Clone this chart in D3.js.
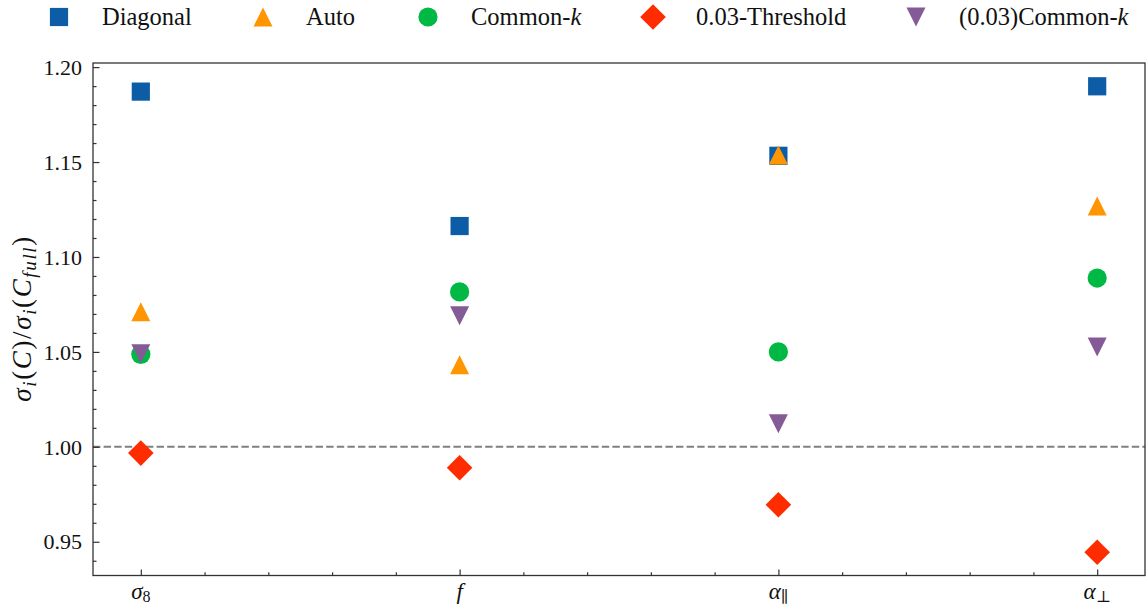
<!DOCTYPE html>
<html>
<head>
<meta charset="utf-8">
<script src="https://cdn.jsdelivr.net/npm/d3@7"></script>
<style>
  html, body { margin: 0; padding: 0; background: #fff; }
  svg { display: block; }
  svg text { font-family: "Liberation Serif", "DejaVu Serif", "Times New Roman", serif; fill: #111; }
</style>
</head>
<body>
<svg id="chart" width="1148" height="607" font-family="Liberation Serif, DejaVu Serif, serif"></svg>
<script>
// Parameters on the x axis (base symbol + subscript)
const paramBase = ["σ", "f", "α", "α"];
const paramSub  = ["8", "", "∥", "⊥"];

// Ratio of marginalised errors sigma_i(C) / sigma_i(C_full) for each covariance choice
const diagonal       = [1.1871, 1.1163, 1.1533, 1.1899];
const auto           = [1.0711, 1.0432, 1.1537, 1.1268];
const commonK        = [1.0487, 1.0816, 1.0500, 1.0889];
const threshold003   = [0.9967, 0.9890, 0.9695, 0.9445];
const commonK003     = [1.0490, 1.0690, 1.0121, 1.0526];

const seriesNames  = ["Diagonal", "Auto", "Common-k", "0.03-Threshold", "(0.03)Common-k"];
const seriesValues = [diagonal, auto, commonK, threshold003, commonK003];

const yMajorTicks = [0.95, 1.00, 1.05, 1.10, 1.15, 1.20];
const yTickLabels = ["0.95", "1.00", "1.05", "1.10", "1.15", "1.20"];
const referenceLevel = 1.0;

const colors  = ["#0C5DA5", "#FF9500", "#00B945", "#FF2C00", "#845B97"];
const markers = ["square", "triangleUp", "circle", "diamond", "triangleDown"];

const FONT = "Liberation Serif, DejaVu Serif, serif";
const svg = d3.select("#chart");
const margin = { left: 93, right: 3, top: 63, bottom: 31.5 };
const W = 1148, H = 607;
const x0 = margin.left, x1 = W - margin.right;
const y0 = margin.top, y1 = H - margin.bottom;

// x: category index with 5% padding on each side
const n = paramBase.length;
const xPad = 0.05 * (n - 1);
const x = d3.scaleLinear().domain([-xPad, n - 1 + xPad]).range([x0, x1]);

// y: data extent with 5% padding
const allVals = seriesValues.flat();
const yMin = d3.min(allVals), yMax = d3.max(allVals);
const yPad = 0.05 * (yMax - yMin);
const y = d3.scaleLinear().domain([yMin - yPad, yMax + yPad]).range([y1, y0]);

function markerPath(kind) {
  const p = d3.path();
  if (kind === "square") {
    const s = 9.1; p.rect(-s, -s, 2 * s, 2 * s);
  } else if (kind === "circle") {
    p.arc(0, 0, 9.6, 0, 2 * Math.PI);
  } else if (kind === "triangleUp") {
    const h = 9.5; p.moveTo(0, -h); p.lineTo(h, h); p.lineTo(-h, h); p.closePath();
  } else if (kind === "triangleDown") {
    const h = 9.5; p.moveTo(0, h); p.lineTo(h, -h); p.lineTo(-h, -h); p.closePath();
  } else if (kind === "diamond") {
    const d = 12.8; p.moveTo(0, -d); p.lineTo(d, 0); p.lineTo(0, d); p.lineTo(-d, 0); p.closePath();
  }
  return p.toString();
}

// Reference line at ratio = 1
svg.append("line")
  .attr("x1", x0).attr("x2", x1)
  .attr("y1", y(referenceLevel)).attr("y2", y(referenceLevel))
  .attr("stroke", "#808080").attr("stroke-width", 2)
  .attr("stroke-dasharray", "7.4,3.2");

// Markers
const plot = svg.append("g");
seriesValues.forEach((vals, si) => {
  plot.append("g").selectAll("path")
    .data(vals)
    .join("path")
    .attr("d", markerPath(markers[si]))
    .attr("transform", (v, i) => `translate(${x(i)},${y(v)})`)
    .attr("fill", colors[si]);
});

// Axes: inward ticks on left and bottom
const axisColor = "#333";
const xAxis = d3.axisBottom(x)
  .tickValues(d3.range(n))
  .tickSize(-6).tickSizeOuter(0).tickFormat("");
const xMinor = d3.axisBottom(x)
  .tickValues(d3.range(0, n - 1 + 1e-9, 0.2).filter(v => Math.abs(v - Math.round(v)) > 1e-6))
  .tickSize(-3.2).tickSizeOuter(0).tickFormat("");
const yAxis = d3.axisLeft(y)
  .tickValues(yMajorTicks)
  .tickSize(-6.5).tickSizeOuter(0).tickFormat("");
const yMinorVals = d3.range(93, 121).map(v => v / 100)
  .filter(v => v >= y.domain()[0] && v <= y.domain()[1] && Math.abs(v * 20 - Math.round(v * 20)) > 1e-6);
const yMinor = d3.axisLeft(y)
  .tickValues(yMinorVals)
  .tickSize(-3.5).tickSizeOuter(0).tickFormat("");

[[xAxis, `translate(0,${y1})`], [xMinor, `translate(0,${y1})`],
 [yAxis, `translate(${x0},0)`], [yMinor, `translate(${x0},0)`]].forEach(([ax, tr]) => {
  const g = svg.append("g").attr("transform", tr).call(ax);
  g.select(".domain").remove();
  g.selectAll(".tick line").attr("stroke", axisColor).attr("stroke-width", 1.2);
});

// Frame
svg.append("rect")
  .attr("x", x0).attr("y", y0).attr("width", x1 - x0).attr("height", y1 - y0)
  .attr("fill", "none").attr("stroke", axisColor).attr("stroke-width", 1.3);

// Y tick labels
svg.append("g").selectAll("text")
  .data(yMajorTicks)
  .join("text")
  .attr("x", x0 - 11).attr("y", v => y(v))
  .attr("dy", "0.35em")
  .attr("text-anchor", "end")
  .attr("font-family", FONT)
  .attr("font-size", 22)
  .text((v, i) => yTickLabels[i]);

// X tick labels with subscripts
const xl = svg.append("g").selectAll("text")
  .data(paramBase)
  .join("text")
  .attr("x", (d, i) => x(i)).attr("y", 599)
  .attr("text-anchor", "middle")
  .attr("font-family", FONT)
  .attr("font-size", 23);
xl.append("tspan").attr("font-style", "italic").text(d => d);
xl.append("tspan")
  .attr("font-size", 16).attr("dy", 3)
  .text((d, i) => paramSub[i]);

// Y axis label: sigma_i(C)/sigma_i(C_full)
const ylab = svg.append("text")
  .attr("transform", `translate(31,${(y0 + y1) / 2}) rotate(-90)`)
  .attr("text-anchor", "middle")
  .attr("font-family", FONT)
  .attr("font-size", 27)
  .attr("textLength", 165)
  .attr("lengthAdjust", "spacing");
const parts = [
  ["σ", "italic", 0], ["i", "italic", 5], ["(", "normal", -5], ["C", "italic", 0],
  [")/", "normal", 0], ["σ", "italic", 0], ["i", "italic", 5], ["(", "normal", -5],
  ["C", "italic", 0], ["full", "italic", 5], [")", "normal", -5]
];
parts.forEach(([t, st, dy]) => {
  const sub = (t === "i" || t === "full");
  ylab.append("tspan")
    .attr("font-style", st)
    .attr("font-size", sub ? 19 : 27)
    .attr("dy", dy)
    .text(t);
});

// Legend row above the axes
const legendMarkerX = [59, 263, 428, 653, 916];
const legendY = 17;
const lg = svg.append("g");
seriesNames.forEach((name, si) => {
  const mx = legendMarkerX[si];
  lg.append("path")
    .attr("d", markerPath(markers[si]))
    .attr("transform", `translate(${mx},${legendY})`)
    .attr("fill", colors[si]);
  const t = lg.append("text")
    .attr("x", mx + 43).attr("y", legendY + 8)
    .attr("font-family", FONT)
    .attr("font-size", 24.5);
  if (name.endsWith("-k")) {
    t.append("tspan").text(name.slice(0, -1));
    t.append("tspan").attr("font-style", "italic").text("k");
  } else {
    t.text(name);
  }
});
</script>
</body>
</html>
